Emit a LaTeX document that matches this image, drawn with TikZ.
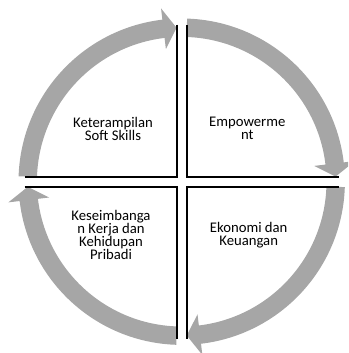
\documentclass[tikz,border=0pt]{standalone}
\usepackage{fontspec}
\setmainfont{Carlito}
\definecolor{arcgray}{RGB}{166,166,166}

\begin{document}
\begin{tikzpicture}[x=1pt,y=1pt,
    cyclearrow/.style={fill=arcgray},
    cell/.style={draw=black,line width=2pt},
    celltext/.style={align=center,inner sep=0pt,font=\fontsize{14.7}{13}\selectfont}]
  \clip (-181.7,-171.3) rectangle (166.3,181.7);
  % one curved arrow and one cell corner per quarter
  \foreach \r in {0,-90,-180,-270}{
    \fill[cyclearrow,rotate=\r] (178.1:163.2) arc[start angle=178.1,end angle=96.8,radius=163.2]
      -- (96.8:174.5) -- (91.9:154) -- (96.8:133.5) -- (96.8:144.8)
      arc[start angle=96.8,end angle=178.1,radius=144.8] -- cycle;
    \draw[cell,rotate=\r] (-5,157) -- (-5,5) -- (-157,5);
  }
  \node[celltext] (soft) at (-68.7,52.5) {Keterampilan\\Soft Skills};
  \node[celltext] (empow) at (65.6,53) {Empowerme\\nt};
  \node[celltext] (ekon) at (67,-53.5) {Ekonomi dan\\Keuangan};
  \node[celltext] (balance) at (-70.7,-53.2) {Keseimbanga\\n Kerja dan\\Kehidupan\\Pribadi};
\end{tikzpicture}
\end{document}
